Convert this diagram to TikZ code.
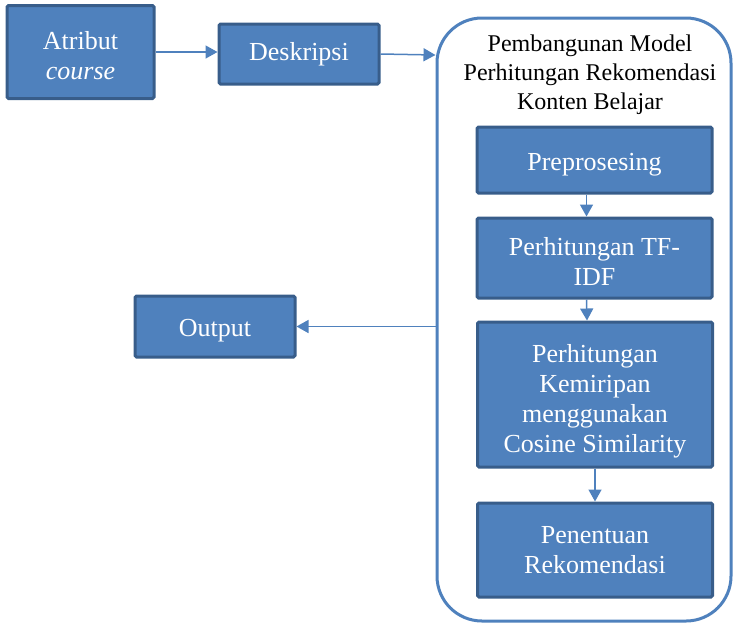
\documentclass[tikz,border=0pt]{standalone}
\usepackage{fontspec}
\setmainfont{Liberation Serif}
\usetikzlibrary{positioning,arrows.meta}
\definecolor{boxblue}{HTML}{4F81BD}
\definecolor{boxedge}{HTML}{385D8A}
\newcommand{\sink}[1]{\rule{0pt}{#1}} % push the text of a block a bit down
\tikzset{
  block/.style={ % filled step box
    draw=boxedge, line width=3pt, fill=boxblue, rounded corners=1.5pt,
    text=white, font=\fontsize{26}{30}\selectfont, align=center,
    inner sep=0pt
  },
  frame/.style={ % rounded outline round the model stage
    draw=boxblue, line width=3pt, rounded corners=45pt, inner sep=0pt
  },
  link/.style={ % thin connector with a filled head
    draw=boxblue, line width=1.5pt,
    -{Triangle[length=12pt,width=13pt]}
  }
}

\begin{document}
\begin{tikzpicture}[x=1pt, y=-1pt]
  \useasboundingbox (0,0) rectangle (733,625);

  \node[frame, minimum width=294pt, minimum height=603pt] (model) at (584,319.5) {};
  \node[font=\fontsize{24}{29}\selectfont, align=center] (title) at (590,75)
    {Pembangunan Model\\Perhitungan Rekomendasi\\Konten Belajar};

  \node[block, minimum width=147pt, minimum height=93pt] (atribut) at (80.5,52)
    {\sink{25pt}Atribut\\\textit{course}};
  \node[block, minimum width=160pt, minimum height=60pt] (deskripsi) at (299,54) {Deskripsi};
  \node[block, minimum width=160pt, minimum height=61pt] (output) at (215,326.5)
    {\sink{26pt}Output};

  \node[block, minimum width=235pt, minimum height=66pt] (prepro) at (594.5,160)
    {\sink{27pt}Preprosesing};
  \node[block, minimum width=235pt, minimum height=80pt] (tfidf) at (594.5,258)
    {\sink{25pt}Perhitungan TF-\\IDF};
  \node[block, minimum width=235pt, minimum height=145pt] (cosine) at (595,394.5)
    {\sink{32pt}Perhitungan\\Kemiripan\\menggunakan\\Cosine Similarity};
  \node[block, minimum width=235pt, minimum height=94pt] (rekom) at (595,550)
    {Penentuan\\Rekomendasi};

  \draw[link] (atribut.east) -- (atribut.east -| deskripsi.west);
  \draw[link] (deskripsi.east) -- ([yshift=-1pt]deskripsi.east -| model.west);
  \draw[link] (output.east -| model.west) -- (output.east);
  \draw[link] ([xshift=-8pt]prepro.south) -- ([xshift=-8pt]tfidf.north);
  \draw[link] ([xshift=-8pt]tfidf.south) -- ([xshift=-8pt]cosine.north);
  \draw[link] (cosine) -- (rekom);
\end{tikzpicture}
\end{document}
